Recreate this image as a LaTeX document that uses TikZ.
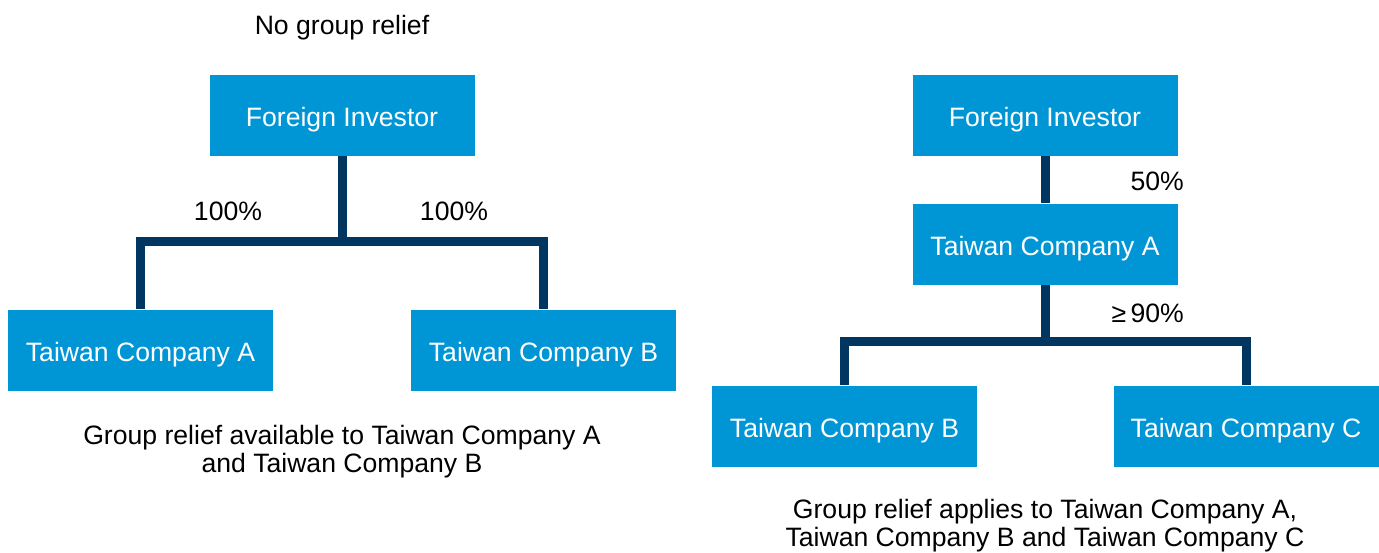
\documentclass[tikz,border=0pt]{standalone}
\usepackage{fontspec}
\setmainfont{Liberation Sans}
\usetikzlibrary{positioning}
\definecolor{boxblue}{RGB}{0,150,214}
\definecolor{linenavy}{RGB}{0,54,96}

\begin{document}
\begin{tikzpicture}[x=1pt,y=-1pt,
    company node/.style={rectangle,fill=boxblue,text=white,minimum width=265pt,minimum height=81pt,
                         inner sep=0pt,text height=22pt,text depth=0pt,font=\fontsize{26.6}{32}\selectfont},
    own line/.style={draw=linenavy,line width=9pt},
    share/.style={font=\fontsize{26.6}{32}\selectfont,inner sep=0pt},
    caption/.style={font=\fontsize{26.6}{28}\selectfont,align=center,inner sep=0pt}]
  \useasboundingbox (0,0) rectangle (1379,552);

  % no group relief
  \node[share] (titleL) at (342,28) {No group relief};
  \node[company node] (fiL) at (342,115) {Foreign Investor};
  \node[company node] (tcaL) at (140.5,350) {Taiwan Company A};
  \node[company node] (tcbL) at (543.5,350) {Taiwan Company B};
  \coordinate (barL) at (342,241);
  \node[share] (pctA) at (228,211) {100\%};
  \node[share] (pctB) at (454,211) {100\%};
  \node[caption] (capL) at (342,451.5) {Group relief available to Taiwan Company A\\and Taiwan Company B};

  \draw[own line] (fiL) -- (barL);
  \draw[own line] (tcaL) |- (barL) -| (tcbL);

  % group relief
  \node[company node] (fiR) at (1045,115) {Foreign Investor};
  \node[company node] (tcaR) at (1045,244) {Taiwan Company A};
  \node[company node] (tcbR) at (844.5,426) {Taiwan Company B};
  \node[company node] (tccR) at (1246,426) {Taiwan Company C};
  \coordinate (barR) at (1045,341);
  \node[share,anchor=east] (pctFI) at (1184,181) {50\%};
  \node[share,anchor=east] (pctTCA) at (1184,313) {≥\,90\%};
  \node[caption] (capR) at (1045,526) {Group relief applies to Taiwan Company A,\\Taiwan Company B and Taiwan Company C};

  \draw[own line] (fiR) -- (tcaR);
  \draw[own line] (tcaR) -- (barR);
  \draw[own line] (tcbR) |- (barR) -| (tccR);
\end{tikzpicture}
\end{document}
